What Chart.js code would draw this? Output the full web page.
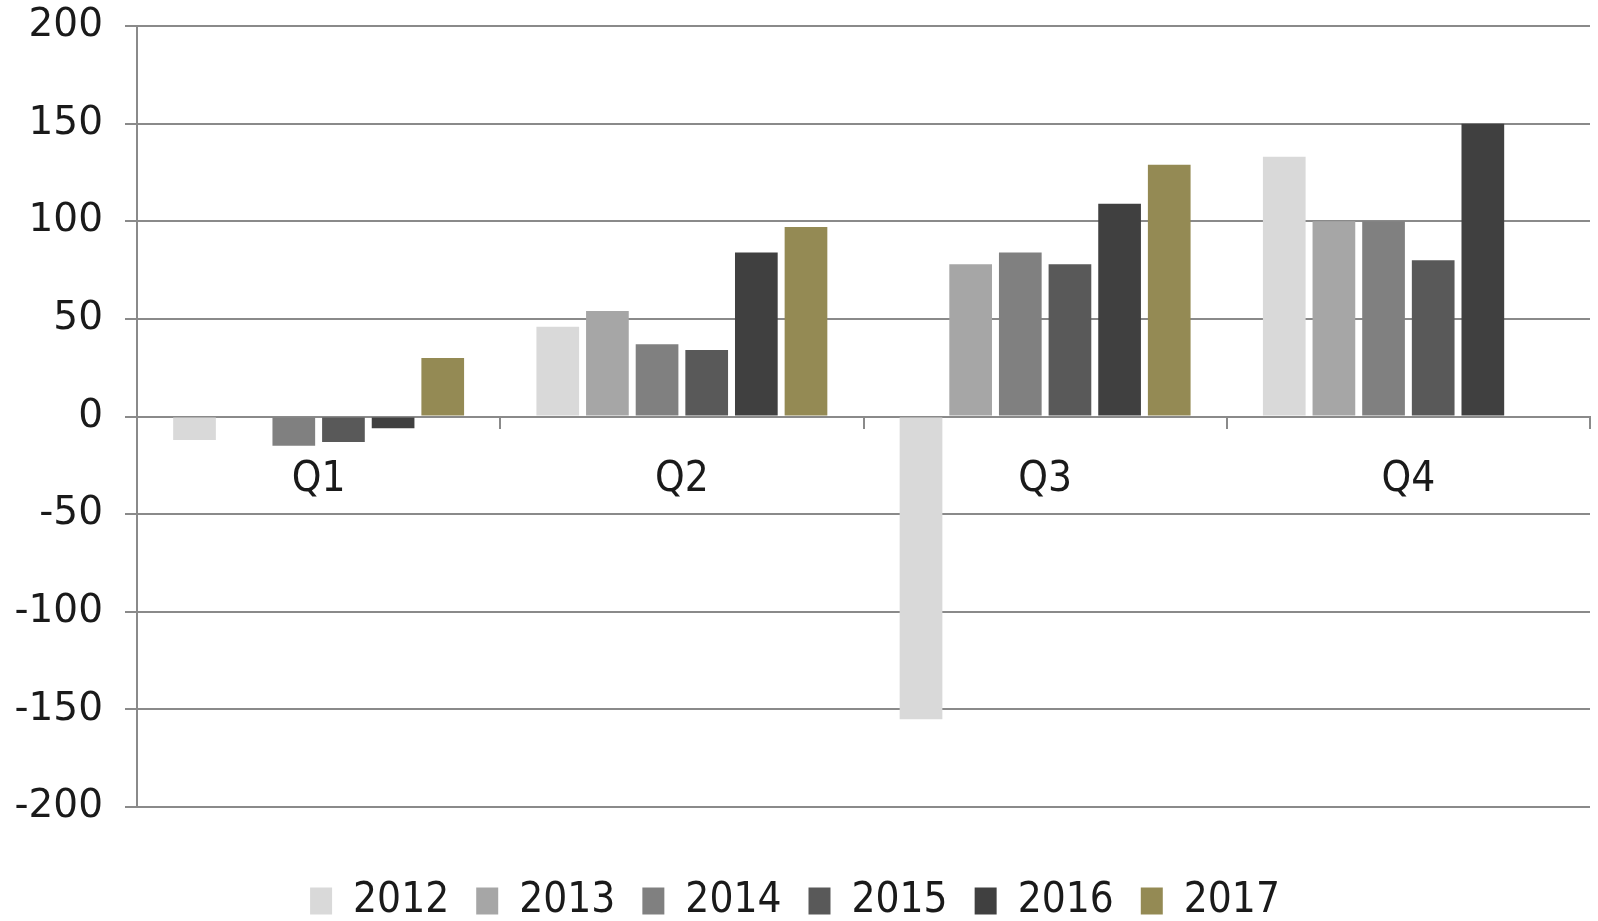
<!DOCTYPE html>
<html>
<head>
<meta charset="utf-8">
<script src="https://cdn.jsdelivr.net/npm/chart.js@4/dist/chart.umd.min.js"></script>
<style>
  html, body { margin: 0; padding: 0; background: #fff; }
  #wrap { width: 1598px; height: 921px; }
</style>
</head>
<body>
<div id="wrap"><canvas id="grafico"></canvas></div>
<script>
var trimestres = ['Q1', 'Q2', 'Q3', 'Q4'];
var anios = ['2012', '2013', '2014', '2015', '2016', '2017'];
var v2012 = [-12, 46, -155, 133];
var v2013 = [null, 54, 78, 100];
var v2014 = [-15, 37, 84, 100];
var v2015 = [-13, 34, 78, 80];
var v2016 = [-6, 84, 109, 150];
var v2017 = [30, 97, 129, null];
var colores = ['#d9d9d9', '#a6a6a6', '#808080', '#595959', '#404040', '#948a54'];

var series = [v2012, v2013, v2014, v2015, v2016, v2017];
var lineaGris = '#8a8a8a';
var fuenteEstrecha = '"DejaVu Sans Condensed", "Liberation Sans", sans-serif';

var ctx = document.getElementById('grafico').getContext('2d');
var grafico = new Chart(ctx, {
	type: 'bar',
	data: {
		labels: trimestres,
		datasets: anios.map(function(a, i){
			return {
				label: a,
				data: series[i],
				backgroundColor: colores[i],
				borderWidth: 0,
				categoryPercentage: 0.82,
				barPercentage: 0.86
			};
		})
	},
	options: {
		responsive: true,
		maintainAspectRatio: false,
		animation: false,
		layout: { padding: { top: 26, right: 8, left: 0, bottom: -11 } },
		plugins: {
			tooltip: { enabled: false },
			legend: {
				position: 'bottom',
				labels: {
					boxWidth: 22,
					boxHeight: 27,
					padding: 27,
					color: '#1a1a1a',
					font: { family: fuenteEstrecha, size: 42 }
				}
			}
		},
		scales: {
			x: {
				position: { y: 0 },
				grid: { display: true, drawOnChartArea: false, offset: true, tickLength: 11, color: lineaGris, lineWidth: 2 },
				border: { display: true, color: lineaGris, width: 2 },
				ticks: { color: '#1a1a1a', padding: 27, font: { family: fuenteEstrecha, size: 42 } },
				afterFit: function(s){ s.paddingTop = 0; s.paddingBottom = 0; }
			},
			// eje vacio solo para dejar espacio encima de la leyenda
			espacio: {
				type: 'category',
				position: 'bottom',
				grid: { display: false },
				border: { display: false },
				ticks: { display: false },
				afterFit: function(s){ s.height = 46; }
			},
			y: {
				min: -200,
				max: 200,
				ticks: { stepSize: 50, color: '#1a1a1a', padding: 22, font: { family: '"DejaVu Sans", sans-serif', size: 39 } },
				grid: { color: lineaGris, lineWidth: 2, tickLength: 12 },
				border: { display: true, color: lineaGris, width: 2 },
				afterFit: function(s){ s.width = 137; s.paddingTop = 0; s.paddingBottom = 0; }
			}
		}
	}
});
</script>
</body>
</html>
